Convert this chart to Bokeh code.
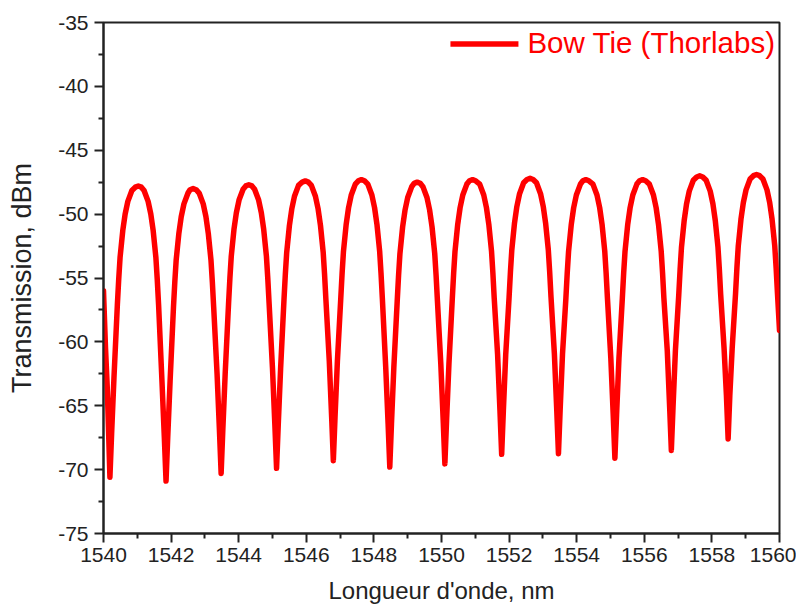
from bokeh.plotting import figure
from bokeh.models import FixedTicker, Range1d
from bokeh.embed import file_html
from bokeh.resources import INLINE

# ---- data ----
wavelength_nm = [
    1540.00, 1540.06, 1540.11, 1540.15,
    1540.19, 1540.24, 1540.31, 1540.41, 1540.45, 1540.49, 1540.57, 1540.64, 1540.72, 1540.84, 1540.94, 1541.03, 1541.12,
    1541.20, 1541.32, 1541.40, 1541.47, 1541.55, 1541.59, 1541.63, 1541.73, 1541.80,
    1541.85, 1541.90, 1541.97, 1542.07, 1542.11, 1542.15, 1542.23, 1542.30, 1542.38, 1542.50, 1542.56, 1542.65, 1542.74,
    1542.83, 1542.95, 1543.03, 1543.10, 1543.18, 1543.22, 1543.26, 1543.36, 1543.43,
    1543.48, 1543.53, 1543.60, 1543.70, 1543.74, 1543.78, 1543.86, 1543.93, 1544.01, 1544.13, 1544.21, 1544.30, 1544.39,
    1544.47, 1544.59, 1544.67, 1544.74, 1544.82, 1544.86, 1544.90, 1545.00, 1545.07,
    1545.12, 1545.17, 1545.24, 1545.34, 1545.38, 1545.42, 1545.50, 1545.57, 1545.65, 1545.77, 1545.88, 1545.97, 1546.06,
    1546.15, 1546.27, 1546.35, 1546.42, 1546.50, 1546.54, 1546.58, 1546.68, 1546.75,
    1546.80, 1546.85, 1546.92, 1547.02, 1547.06, 1547.10, 1547.18, 1547.25, 1547.33, 1547.45, 1547.54, 1547.63, 1547.72,
    1547.82, 1547.94, 1548.02, 1548.09, 1548.17, 1548.21, 1548.25, 1548.35, 1548.42,
    1548.47, 1548.52, 1548.59, 1548.69, 1548.73, 1548.77, 1548.85, 1548.92, 1549.00, 1549.12, 1549.19, 1549.28, 1549.37,
    1549.45, 1549.57, 1549.65, 1549.72, 1549.80, 1549.84, 1549.88, 1549.98, 1550.05,
    1550.10, 1550.15, 1550.22, 1550.32, 1550.36, 1550.40, 1550.48, 1550.55, 1550.63, 1550.75, 1550.83, 1550.92, 1551.01,
    1551.13, 1551.25, 1551.33, 1551.40, 1551.48, 1551.52, 1551.56, 1551.66, 1551.73,
    1551.78, 1551.83, 1551.90, 1552.00, 1552.04, 1552.08, 1552.16, 1552.23, 1552.31, 1552.43, 1552.53, 1552.62, 1552.71,
    1552.81, 1552.93, 1553.01, 1553.08, 1553.16, 1553.20, 1553.24, 1553.34, 1553.41,
    1553.46, 1553.51, 1553.58, 1553.68, 1553.72, 1553.76, 1553.84, 1553.91, 1553.99, 1554.11, 1554.18, 1554.27, 1554.36,
    1554.48, 1554.60, 1554.68, 1554.75, 1554.83, 1554.87, 1554.91, 1555.01, 1555.08,
    1555.13, 1555.18, 1555.25, 1555.35, 1555.39, 1555.43, 1555.51, 1555.58, 1555.66, 1555.78, 1555.86, 1555.95, 1556.04,
    1556.15, 1556.27, 1556.35, 1556.42, 1556.50, 1556.54, 1556.58, 1556.68, 1556.75,
    1556.80, 1556.85, 1556.92, 1557.02, 1557.06, 1557.10, 1557.18, 1557.25, 1557.33, 1557.45, 1557.55, 1557.64, 1557.73,
    1557.83, 1557.95, 1558.03, 1558.10, 1558.18, 1558.22, 1558.26, 1558.36, 1558.43,
    1558.48, 1558.53, 1558.60, 1558.70, 1558.74, 1558.78, 1558.86, 1558.93, 1559.01, 1559.13, 1559.23, 1559.32, 1559.41,
    1559.51, 1559.63, 1559.71, 1559.78, 1559.86, 1559.90, 1559.94, 1560.00,
]

transmission_dbm = [
    -56.0, -60.5, -63.5, -67.0,
    -70.6, -67.2, -62.8, -57.1, -55.1, -53.4, -51.3, -50.0, -49.0, -48.15, -47.89, -47.8, -47.89,
    -48.15, -49.0, -50.0, -51.3, -53.4, -55.1, -57.1, -63.1, -67.5,
    -70.9, -67.5, -63.1, -57.3, -55.3, -53.6, -51.5, -50.2, -49.2, -48.35, -48.09, -48.0, -48.09,
    -48.35, -49.2, -50.2, -51.5, -53.6, -55.3, -57.3, -62.5, -66.9,
    -70.3, -66.9, -62.5, -57.0, -55.0, -53.3, -51.2, -49.9, -48.9, -48.05, -47.79, -47.7, -47.79,
    -48.05, -48.9, -49.9, -51.2, -53.3, -55.0, -57.0, -62.1, -66.5,
    -69.9, -66.5, -62.1, -56.7, -54.7, -53.0, -50.9, -49.6, -48.6, -47.75, -47.49, -47.4, -47.49,
    -47.75, -48.6, -49.6, -50.9, -53.0, -54.7, -56.7, -61.5, -65.9,
    -69.3, -65.9, -61.5, -56.6, -54.6, -52.9, -50.8, -49.5, -48.5, -47.65, -47.39, -47.3, -47.39,
    -47.65, -48.5, -49.5, -50.8, -52.9, -54.6, -56.6, -62.0, -66.4,
    -69.8, -66.4, -62.0, -56.8, -54.8, -53.1, -51.0, -49.7, -48.7, -47.85, -47.59, -47.5, -47.59,
    -47.85, -48.7, -49.7, -51.0, -53.1, -54.8, -56.8, -61.75, -66.15,
    -69.55, -66.15, -61.75, -56.6, -54.6, -52.9, -50.8, -49.5, -48.5, -47.65, -47.39, -47.3, -47.39,
    -47.65, -48.5, -49.5, -50.8, -52.9, -54.6, -56.6, -61.0, -65.4,
    -68.8, -65.4, -61.0, -56.5, -54.5, -52.8, -50.7, -49.4, -48.4, -47.55, -47.29, -47.2, -47.29,
    -47.55, -48.4, -49.4, -50.7, -52.8, -54.5, -56.5, -60.95, -65.35,
    -68.75, -65.35, -60.95, -56.6, -54.6, -52.9, -50.8, -49.5, -48.5, -47.65, -47.39, -47.3, -47.39,
    -47.65, -48.5, -49.5, -50.8, -52.9, -54.6, -56.6, -61.3, -65.7,
    -69.1, -65.7, -61.3, -56.6, -54.6, -52.9, -50.8, -49.5, -48.5, -47.65, -47.39, -47.3, -47.39,
    -47.65, -48.5, -49.5, -50.8, -52.9, -54.6, -56.6, -60.7, -65.1,
    -68.5, -65.1, -60.7, -56.3, -54.3, -52.6, -50.5, -49.2, -48.2, -47.35, -47.09, -47.0, -47.09,
    -47.35, -48.2, -49.2, -50.5, -52.6, -54.3, -56.3, -60.5, -64.2,
    -67.6, -64.2, -60.5, -56.2, -54.2, -52.5, -50.4, -49.1, -48.1, -47.25, -46.99, -46.9, -46.99,
    -47.25, -48.1, -49.1, -50.4, -52.5, -54.2, -56.2, -59.1,
]

series_label = "Bow Tie (Thorlabs)"
x_label = "Longueur d'onde, nm"
y_label = "Transmission, dBm"

x_major_ticks = [1540, 1542, 1544, 1546, 1548, 1550, 1552, 1554, 1556, 1558, 1560]
x_minor_ticks = [1541, 1543, 1545, 1547, 1549, 1551, 1553, 1555, 1557, 1559]
y_major_ticks = [-75, -70, -65, -60, -55, -50, -45, -40, -35]
y_minor_ticks = [-72.5, -67.5, -62.5, -57.5, -52.5, -47.5, -42.5, -37.5]

FONT = "Liberation Sans"
INK = "#222222"
RED = "#ff0000"

p = figure(
    frame_width=676, frame_height=511,
    min_border_left=103, min_border_right=17, min_border_top=22, min_border_bottom=67,
    x_range=Range1d(1540, 1560), y_range=Range1d(-75, -35),
    output_backend="svg", toolbar_location=None,
    background_fill_color="white", border_fill_color="white",
)
p.xgrid.visible = False
p.ygrid.visible = False
p.outline_line_color = INK
p.outline_line_width = 2
p.outline_line_alpha = 1.0

p.line(wavelength_nm, transmission_dbm, line_color=RED, line_width=5.5,
       line_join="round", line_cap="round", legend_label=series_label)

p.xaxis.ticker = FixedTicker(ticks=x_major_ticks, minor_ticks=x_minor_ticks)
p.yaxis.ticker = FixedTicker(ticks=y_major_ticks, minor_ticks=y_minor_ticks)
p.xaxis.major_label_overrides = {t: str(t) for t in x_major_ticks}
p.yaxis.major_label_overrides = {t: str(t) for t in y_major_ticks}
p.xaxis.axis_label = x_label
p.yaxis.axis_label = y_label

for ax in (p.xaxis[0], p.yaxis[0]):
    ax.axis_line_color = INK
    ax.axis_line_width = 2
    ax.major_tick_line_color = INK
    ax.major_tick_line_width = 2
    ax.major_tick_out = 9
    ax.major_tick_in = 0
    ax.minor_tick_line_color = INK
    ax.minor_tick_line_width = 2
    ax.minor_tick_out = 5
    ax.minor_tick_in = 0
    ax.major_label_text_font = FONT
    ax.major_label_text_font_size = "21px"
    ax.major_label_text_color = INK
    ax.axis_label_text_font = FONT
    ax.axis_label_text_font_style = "normal"
    ax.axis_label_text_color = INK

p.xaxis.axis_label_text_font_size = "24px"
p.yaxis.axis_label_text_font_size = "27px"
p.xaxis.major_label_standoff = 5
p.xaxis.axis_label_standoff = 12
p.yaxis.major_label_standoff = 6
p.yaxis.axis_label_standoff = 18

lg = p.legend[0]
lg.location = "top_right"
lg.margin = 0
lg.padding = 4
lg.spacing = 0
lg.glyph_width = 68
lg.glyph_height = 29
lg.label_standoff = 9
lg.label_height = 29
lg.label_text_font = FONT
lg.label_text_font_size = "29.5px"
lg.label_text_color = RED
lg.background_fill_alpha = 0
lg.border_line_alpha = 0

open("out.html", "w").write(file_html(p, INLINE))
